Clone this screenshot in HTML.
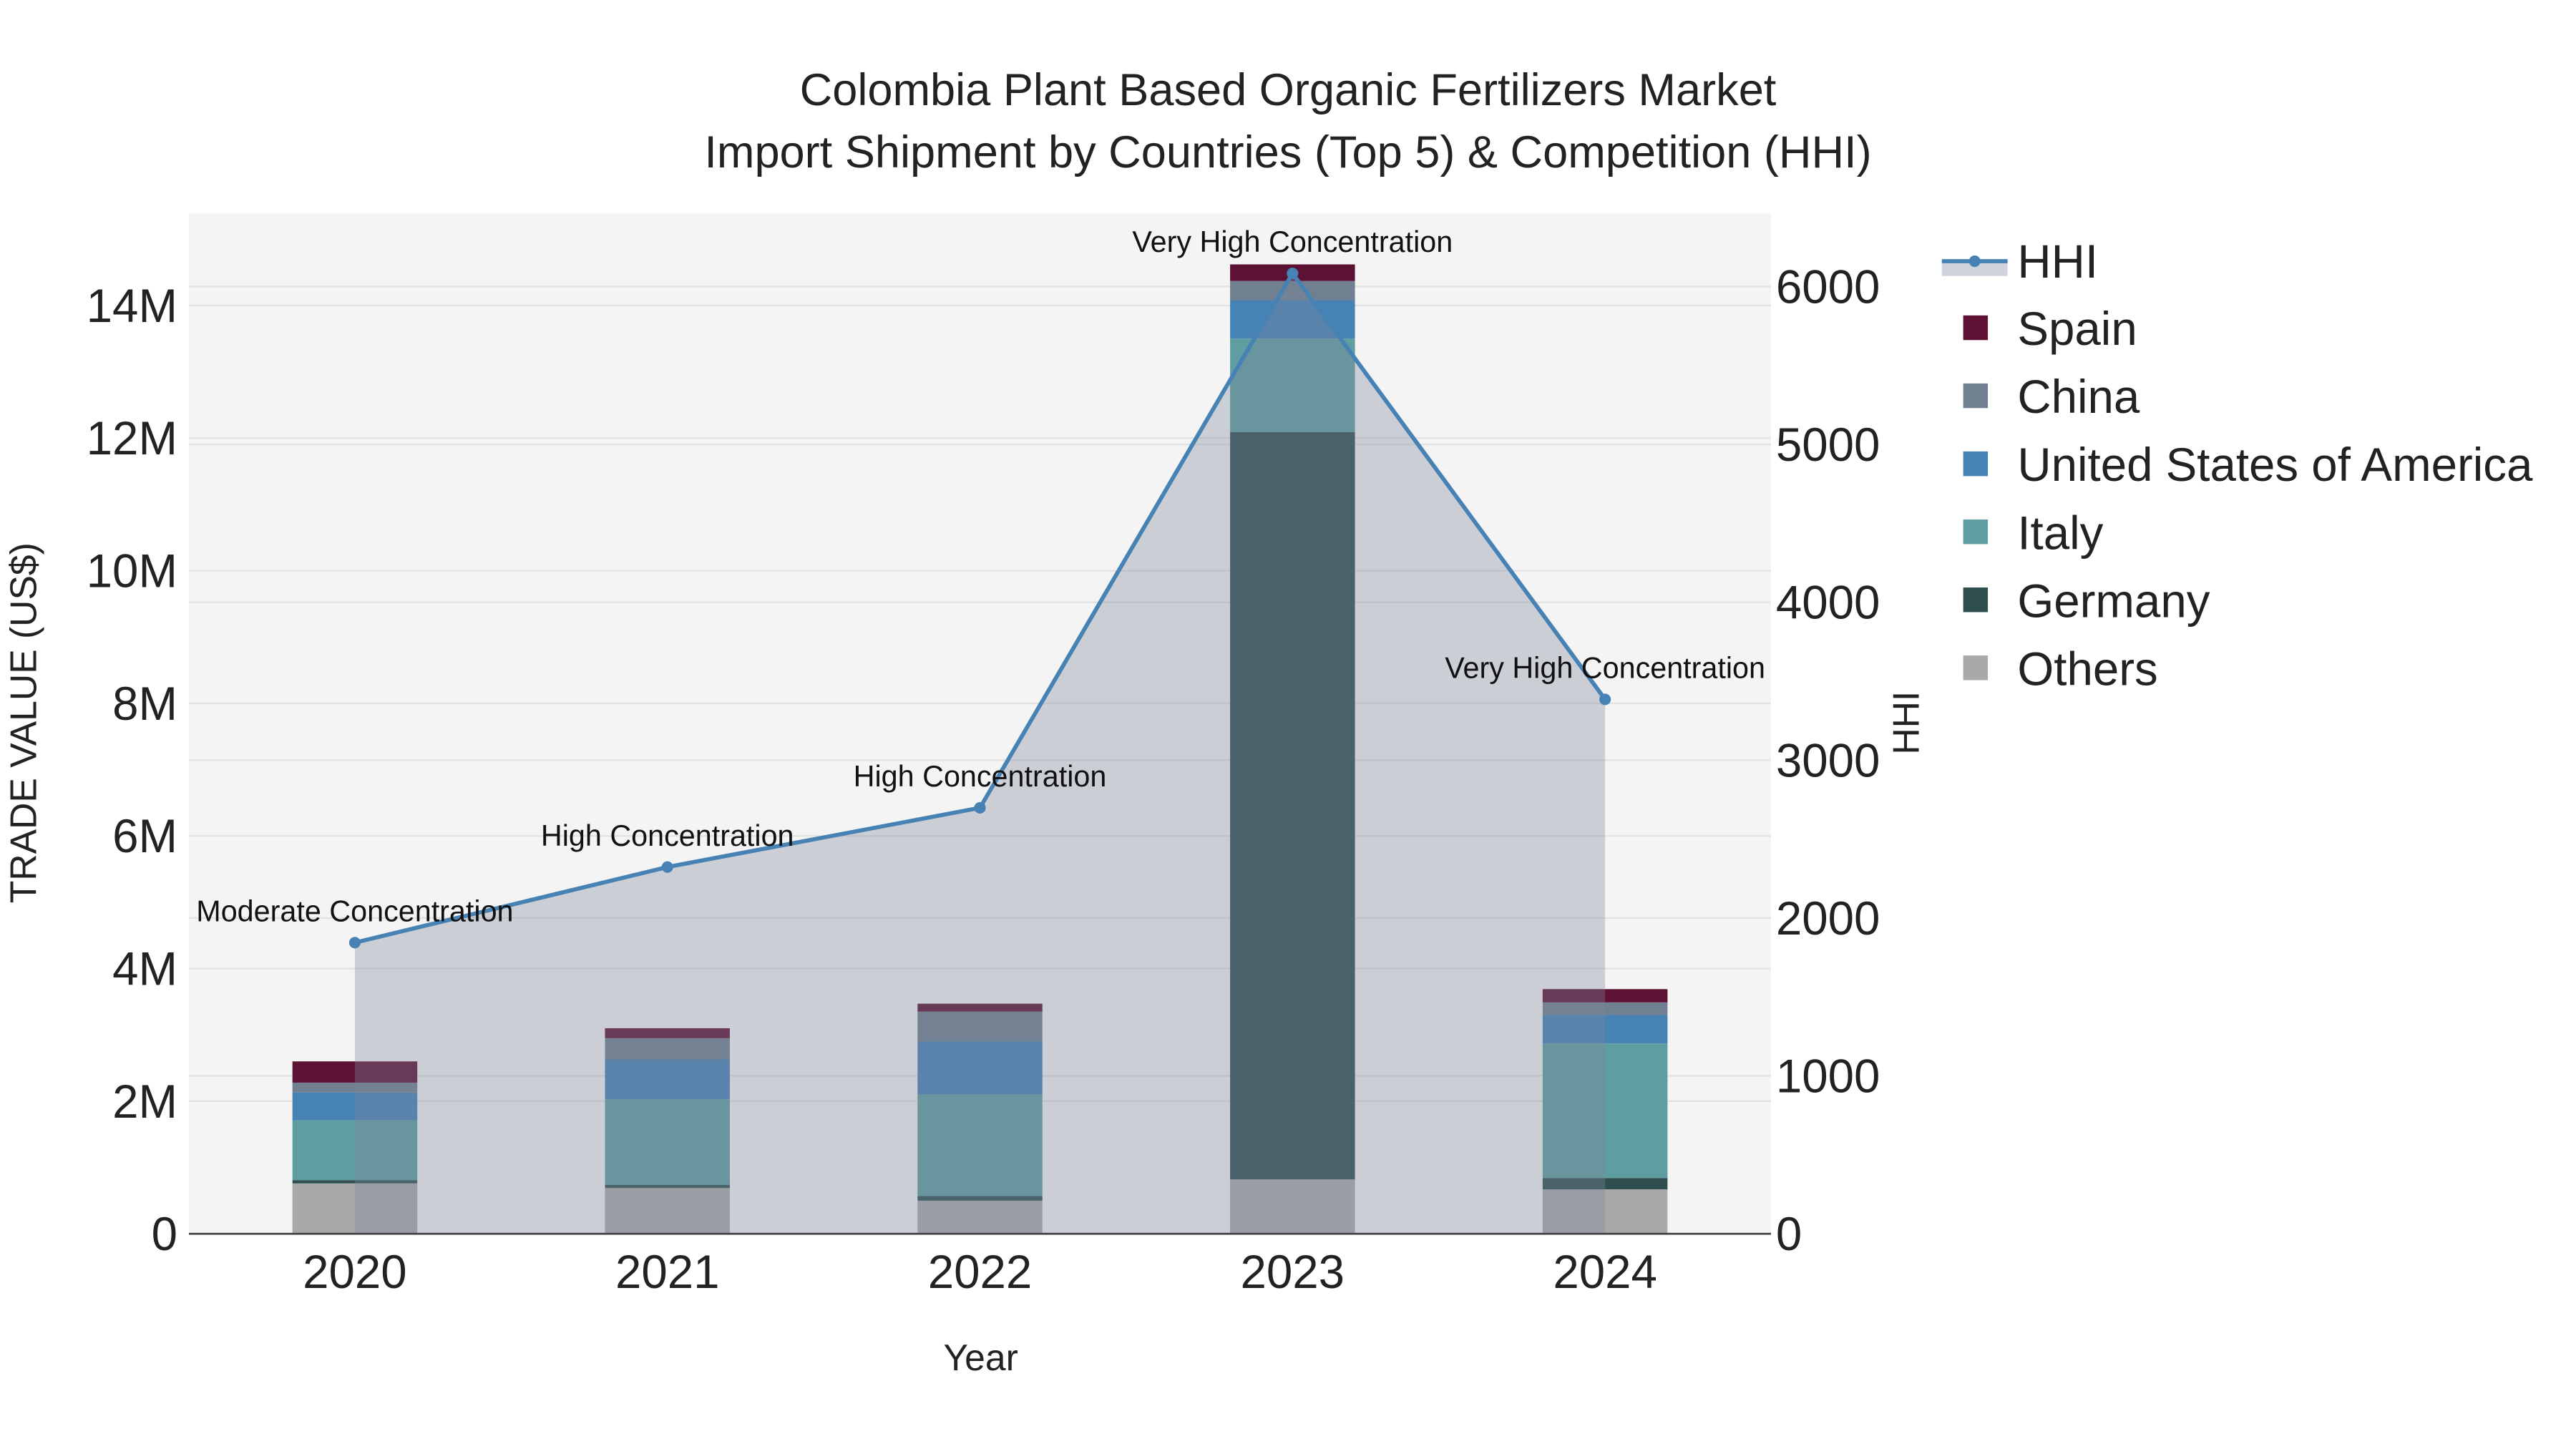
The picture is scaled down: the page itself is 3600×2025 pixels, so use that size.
<!DOCTYPE html>
<html><head><meta charset="utf-8"><style>
html,body{margin:0;padding:0;background:#fff;}
svg{display:block;font-family:"Liberation Sans",sans-serif;}
</style></head><body>
<svg id="chart" width="3600" height="2025" viewBox="0 0 1568 882" xmlns="http://www.w3.org/2000/svg">
<rect x="0" y="0" width="1568" height="882" fill="#fff"/>
<rect x="115" y="130" width="963" height="621" fill="#f4f4f4"/>
<g id="grid"></g>
<g id="bars"></g>
<g id="area"></g>
<g id="line"></g>
<g id="axes"></g>
<text x="784" y="64" text-anchor="middle" font-size="27.5" fill="#222">Colombia Plant Based Organic Fertilizers Market</text>
<text x="784" y="102" text-anchor="middle" font-size="27.5" fill="#222">Import Shipment by Countries (Top 5) &amp; Competition (HHI)</text>
<text x="597" y="834" text-anchor="middle" font-size="22.5" fill="#222">Year</text>
<text x="0" y="0" transform="translate(22,440) rotate(-90)" text-anchor="middle" font-size="22.5" fill="#222">TRADE VALUE (US$)</text>
<text x="0" y="0" transform="translate(1168,440) rotate(-90)" text-anchor="middle" font-size="22.5" fill="#222">HHI</text>
<g id="legend"></g>
</svg>
<script>
const years=["2020","2021","2022","2023","2024"];
const others=[0.76,0.69,0.50,0.82,0.67];
const germany=[0.05,0.05,0.07,11.27,0.17];
const italy=[0.90,1.29,1.53,1.41,2.03];
const usa=[0.42,0.60,0.80,0.58,0.43];
const china=[0.15,0.32,0.45,0.29,0.19];
const spain=[0.32,0.15,0.12,0.25,0.20];
const hhi=[1844,2323,2698,6083,3385];
const hhiLabels=["Moderate Concentration","High Concentration","High Concentration","Very High Concentration","Very High Concentration"];
const yTicks=[0,2,4,6,8,10,12,14];
const y2Ticks=[0,1000,2000,3000,4000,5000,6000];

const NS="http://www.w3.org/2000/svg";
const x=i=>216+i*190.25;
const y=v=>751-v*40.36;
const y2=v=>751-v*0.0961;
function mk(tag,attrs,parent,text){const e=document.createElementNS(NS,tag);for(const k in attrs)e.setAttribute(k,attrs[k]);if(text!==undefined)e.textContent=text;parent.appendChild(e);return e;}
const grid=document.getElementById('grid'),bars=document.getElementById('bars'),area=document.getElementById('area'),lineG=document.getElementById('line'),axes=document.getElementById('axes'),legend=document.getElementById('legend');
yTicks.forEach(t=>{const l=mk('line',{x1:115,x2:1078,y1:y(t),y2:y(t),stroke:'#e2e2e2','stroke-width':1},grid);


const tx=mk('text',{x:108,y:y(t)+10,'text-anchor':'end','font-size':28.5,fill:'#222'},axes,t===0?'0':t+'M');

});
y2Ticks.forEach(t=>{const l=mk('line',{x1:115,x2:1078,y1:y2(t),y2:y2(t),stroke:'#e2e2e2','stroke-width':1},grid);


const tx=mk('text',{x:1081,y:y2(t)+10,'font-size':28.5,fill:'#222'},axes,String(t));

});
const series=[["others",others,"#a9a9a9"],["germany",germany,"#2f4f4f"],["italy",italy,"#5f9ea0"],["usa",usa,"#4682b4"],["china",china,"#708090"],["spain",spain,"#5e1233"]];
years.forEach((yr,i)=>{let base=0;series.forEach(s=>{const v=s[1][i];const r=mk('rect',{x:x(i)-38,width:76,y:y(base+v),height:y(base)-y(base+v),fill:s[2]},bars);


base+=v;});
const tx=mk('text',{x:x(i),y:784,'text-anchor':'middle','font-size':28.5,fill:'#222'},axes,yr);

});
let d='M'+x(0)+','+y(0);hhi.forEach((h,i)=>{d+=' L'+x(i)+','+y2(h);});d+=' L'+x(hhi.length-1)+','+y(0)+' Z';
const a=mk('path',{d:d,fill:'rgb(125,135,155)','fill-opacity':0.35},area);


const ln=mk('polyline',{points:hhi.map((h,i)=>x(i)+','+y2(h)).join(' '),fill:'none',stroke:'#4682b4','stroke-width':2.5},lineG);


hhi.forEach((h,i)=>{const c=mk('circle',{cx:x(i),cy:y2(h),r:3.5,fill:'#4682b4'},lineG);


const t=mk('text',{x:x(i),y:y2(h)-13,'text-anchor':'middle','font-size':18,fill:'#111'},lineG,hhiLabels[i]);

});
const ax=mk('line',{x1:115,x2:1078,y1:751,y2:751,stroke:'#444','stroke-width':1.2},axes);


const lg=mk('g',{},legend);


mk('rect',{x:1182,y:159,width:40,height:9,fill:'#cfd4dc'},lg);
mk('line',{x1:1182,x2:1222,y1:159,y2:159,stroke:'#4682b4','stroke-width':2.5},lg);
mk('circle',{cx:1202,cy:159,r:3.5,fill:'#4682b4'},lg);
mk('text',{x:1228,y:169,'font-size':28.5,fill:'#222'},lg,'HHI');
const names=[["Spain","#5e1233"],["China","#708090"],["United States of America","#4682b4"],["Italy","#5f9ea0"],["Germany","#2f4f4f"],["Others","#a9a9a9"]];
names.forEach((n,i)=>{const cy=200+i*41.4;const g=mk('g',{},legend);


mk('rect',{x:1195,y:cy-8,width:15,height:15,fill:n[1]},g);
mk('text',{x:1228,y:cy+10,'font-size':28.5,fill:'#222'},g,n[0]);});
</script>
</body></html>
